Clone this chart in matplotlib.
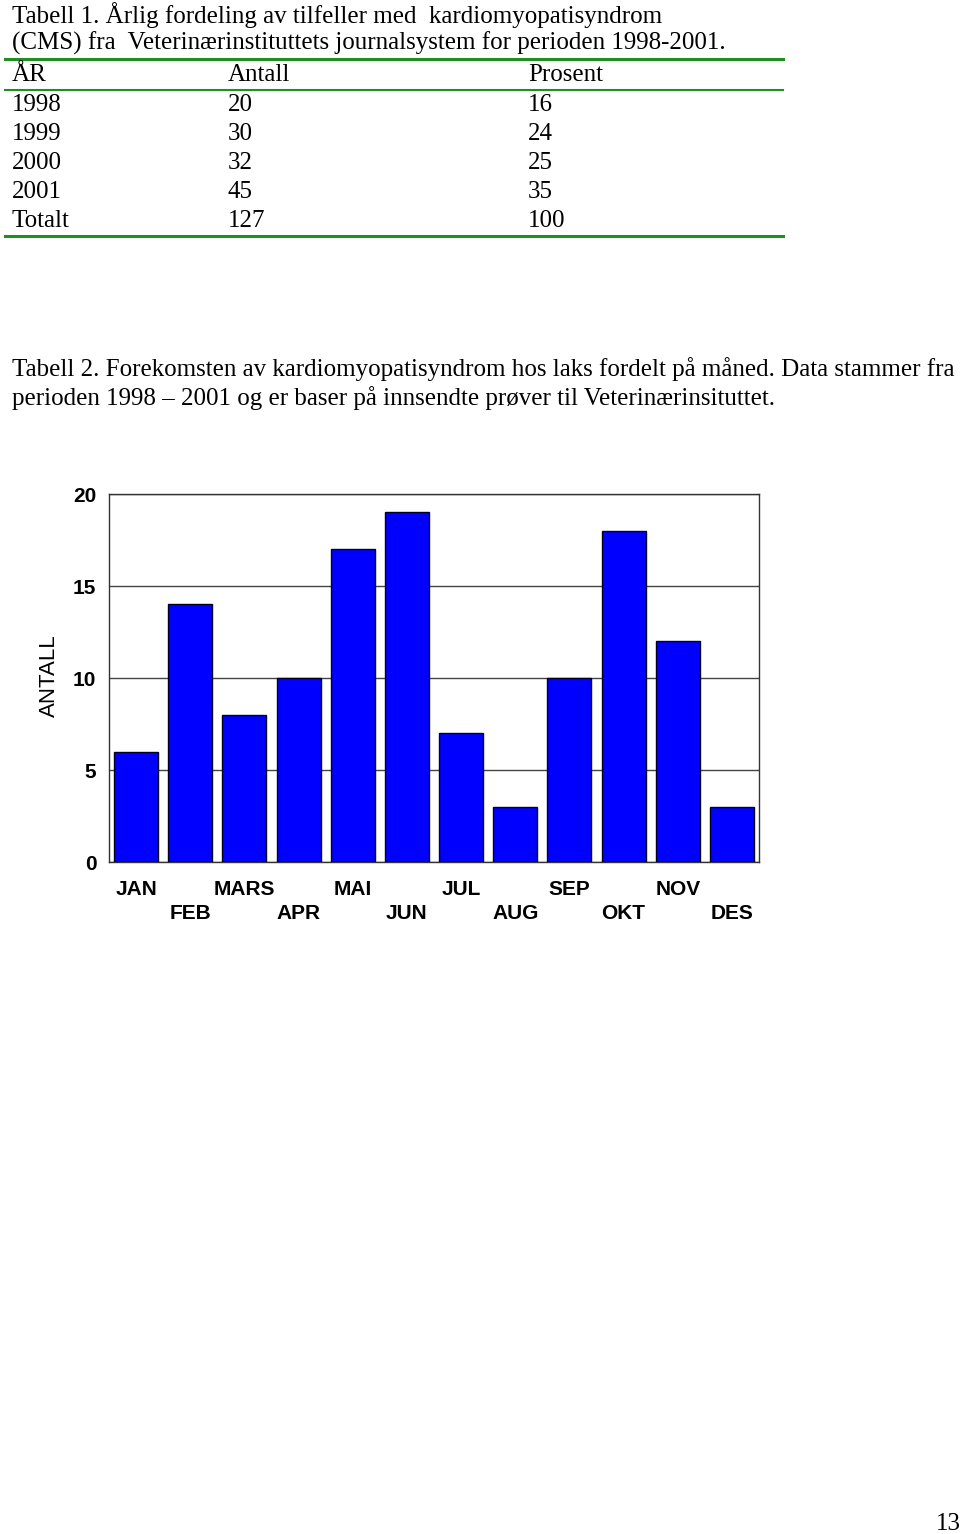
import matplotlib.pyplot as plt
import matplotlib.lines as mlines

W, H = 960, 1534

# table 1 data
years = ["1998", "1999", "2000", "2001", "Totalt"]
antall = [20, 30, 32, 45, 127]
prosent = [16, 24, 25, 35, 100]

# chart data
months = ["JAN", "FEB", "MARS", "APR", "MAI", "JUN", "JUL", "AUG", "SEP", "OKT", "NOV", "DES"]
counts = [6, 14, 8, 10, 17, 19, 7, 3, 10, 18, 12, 3]
yticks = [0, 5, 10, 15, 20]

serif = "Liberation Serif"
sans = "Liberation Sans"
green = "#1f8f1f"

fig = plt.figure(figsize=(W / 100, H / 100), dpi=100)


def px(x, y):
    return x / W, 1 - y / H


def ftext(x, y, s, **kw):
    fx, fy = px(x, y)
    fig.text(fx, fy, s, family=serif, fontsize=18, va="center", **kw)


def hline(y, x0, x1, lw):
    fx0, fy = px(x0, y)
    fx1, _ = px(x1, y)
    fig.add_artist(mlines.Line2D([fx0, fx1], [fy, fy], color=green, lw=lw,
                                 transform=fig.transFigure))


# Tabell 1
ftext(12, 15, "Tabell 1. Årlig fordeling av tilfeller med  kardiomyopatisyndrom")
ftext(12, 43, "(CMS) fra  Veterinærinstituttets journalsystem for perioden 1998-2001.")
hline(59, 5, 783, 2.2)
ftext(12, 75, "ÅR")
ftext(228, 75, "Antall")
ftext(528, 75, "Prosent")
hline(90, 5, 783, 1.5)
for i, (yr, a, p) in enumerate(zip(years, antall, prosent)):
    y = 105 + i * 29
    ftext(12, y, yr)
    ftext(228, y, str(a))
    ftext(528, y, str(p))
hline(236, 5, 783, 2.2)

# Tabell 2 caption
ftext(12, 369, "Tabell 2. Forekomsten av kardiomyopatisyndrom hos laks fordelt på måned. Data stammer fra")
ftext(12, 398, "perioden 1998 – 2001 og er baser på innsendte prøver til Veterinærinsituttet.")

# page number
ftext(948, 1524, "13", ha="center")

# bar chart
l, r, t, b = 109, 759, 494, 862
ax = fig.add_axes([l / W, 1 - b / H, (r - l) / W, (b - t) / H])
x = list(range(len(months)))
ax.bar(x, counts, width=0.81, color="#0000ff", edgecolor="#000022", linewidth=1, zorder=3)
ax.set_xlim(-0.5, len(months) - 0.5)
ax.set_ylim(0, 20)
ax.set_yticks(yticks)
ax.set_yticklabels([str(v) for v in yticks], family=sans, fontsize=15, fontweight="bold")
ax.yaxis.grid(True, color="#444444", lw=1, zorder=0)
ax.tick_params(axis="y", length=0, pad=9)
ax.set_xticks(x)
labels = [m if i % 2 == 0 else "\n" + m for i, m in enumerate(months)]
ax.set_xticklabels(labels, family=sans, fontsize=15, fontweight="bold", va="top")
for lab in ax.get_xticklabels():
    lab.set_linespacing(1.35)
ax.tick_params(axis="x", length=0, pad=13)
for s in ax.spines.values():
    s.set_color("#333333")
    s.set_linewidth(1)

fx, fy = px(49, 676)
fig.text(fx, fy, "ANTALL", family=sans, fontsize=16, rotation=90, ha="center", va="center")

fig.savefig("out.png", dpi=100)
